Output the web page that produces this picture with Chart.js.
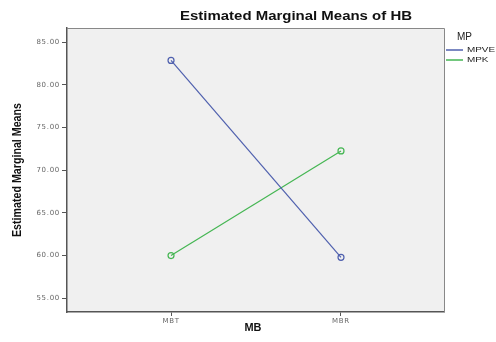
<!DOCTYPE html>
<html><head><meta charset="utf-8">
<script src="https://cdn.jsdelivr.net/npm/chart.js@4/dist/chart.umd.min.js"></script>
<style>html,body{margin:0;padding:0;background:#fff}</style>
</head><body>
<canvas id="c" width="496" height="342" style="display:block;width:496px;height:342px"></canvas>
<script>
const categories = ['MBT', 'MBR'];
const seriesNames = ['MPVE', 'MPK'];
const mpveValues = [82.85, 59.8];
const mpkValues = [60.0, 72.25];
const yTickValues = [55, 60, 65, 70, 75, 80, 85];
const chartTitle = 'Estimated Marginal Means of HB';
const legendTitle = 'MP';
const xTitle = 'MB';
const yTitle = 'Estimated Marginal Means';

const seriesColors = ['#4F60AE', '#45B653'];
const allSeries = [mpveValues, mpkValues];

function fitText(ctx, text, x, y, w, align) {
  const m = ctx.measureText(text).width;
  const s = w / m;
  ctx.save();
  ctx.translate(x, y);
  ctx.scale(s, 1);
  ctx.textAlign = align;
  ctx.fillText(text, 0, 0);
  ctx.restore();
}

const decor = {
  id: 'decor',
  beforeDraw(chart) {
    const ctx = chart.ctx, a = chart.chartArea;
    ctx.save();
    ctx.fillStyle = '#ffffff';
    ctx.fillRect(0, 0, chart.width, chart.height);
    ctx.fillStyle = '#F0F0F0';
    ctx.fillRect(a.left, a.top, a.right - a.left, a.bottom - a.top);
    ctx.restore();
    ctx.letterSpacing = '0.7px';
  },
  beforeDatasetsDraw(chart) {
    const ctx = chart.ctx, a = chart.chartArea;
    ctx.save();
    ctx.strokeStyle = '#888888';
    ctx.lineWidth = 1;
    ctx.beginPath();
    ctx.moveTo(a.left, a.top + 0.5);
    ctx.lineTo(a.right + 0.5, a.top + 0.5);
    ctx.lineTo(a.right + 0.5, a.bottom);
    ctx.stroke();
    ctx.restore();
  },
  afterDraw(chart) {
    const ctx = chart.ctx;
    ctx.save();
    ctx.letterSpacing = '0px';
    ctx.fillStyle = '#111';
    ctx.textBaseline = 'middle';
    ctx.font = 'bold 12px Arial, "Liberation Sans", sans-serif';
    fitText(ctx, chartTitle, 296, 17, 232, 'center');

    ctx.font = 'bold 11px Arial, "Liberation Sans", sans-serif';
    fitText(ctx, xTitle, 253, 328, 17, 'center');

    ctx.save();
    ctx.translate(18, 170);
    ctx.rotate(-Math.PI / 2);
    ctx.font = 'bold 12px Arial, "Liberation Sans", sans-serif';
    fitText(ctx, yTitle, 0, 0, 134, 'center');
    ctx.restore();

    ctx.fillStyle = '#222';
    ctx.font = '10px Arial, "Liberation Sans", sans-serif';
    ctx.textAlign = 'left';
    ctx.fillText(legendTitle, 457, 37);

    ctx.font = '8px Arial, "Liberation Sans", sans-serif';
    const s = 28 / ctx.measureText(chart.data.datasets[0].label).width;
    chart.data.datasets.forEach((ds, i) => {
      const y = 50 + 10 * i;
      ctx.strokeStyle = ds.borderColor;
      ctx.lineWidth = 1.5;
      ctx.beginPath();
      ctx.moveTo(446, y);
      ctx.lineTo(463, y);
      ctx.stroke();
      ctx.save();
      ctx.translate(467, y);
      ctx.scale(s, 1);
      ctx.textAlign = 'left';
      ctx.fillStyle = '#222';
      ctx.fillText(ds.label, 0, 0);
      ctx.restore();
    });
    ctx.restore();
  }
};

const datasets = seriesNames.map((name, i) => ({
  label: name,
  data: allSeries[i].map((v, j) => ({ x: j, y: v })),
  borderColor: seriesColors[i],
  backgroundColor: seriesColors[i],
  borderWidth: 1.2,
  pointRadius: 3,
  pointBorderWidth: 1.2,
  pointBackgroundColor: 'rgba(0,0,0,0)',
  pointBorderColor: seriesColors[i],
  tension: 0
}));

const tickFont = { size: 7, family: '"DejaVu Sans", Arial, sans-serif' };

new Chart(document.getElementById('c'), {
  type: 'line',
  data: { datasets },
  options: {
    responsive: false,
    animation: false,
    events: [],
    layout: { padding: { left: 0, top: 28, right: 52, bottom: 0 } },
    plugins: { legend: { display: false }, title: { display: false }, tooltip: { enabled: false } },
    scales: {
      x: {
        type: 'linear',
        min: -0.612,
        max: 1.606,
        afterFit(scale) { scale.height = 30; },
        afterBuildTicks(scale) { scale.ticks = categories.map((c, i) => ({ value: i })); },
        ticks: {
          callback: (v) => categories[v],
          font: tickFont,
          color: '#666',
          padding: 1,
          maxRotation: 0,
          autoSkip: false
        },
        grid: { drawOnChartArea: false, drawTicks: true, tickLength: 4, tickColor: '#555', tickWidth: 1 },
        border: { display: true, color: '#555', width: 1.5 }
      },
      y: {
        min: 53.4,
        max: 86.64,
        afterFit(scale) { scale.width = 67; },
        afterBuildTicks(scale) { scale.ticks = yTickValues.map(v => ({ value: v })); },
        ticks: {
          callback: (v) => v.toFixed(2),
          font: tickFont,
          color: '#666',
          padding: 2,
          autoSkip: false
        },
        grid: { drawOnChartArea: false, drawTicks: true, tickLength: 5, tickColor: '#555', tickWidth: 1 },
        border: { display: true, color: '#555', width: 1.5 }
      }
    }
  },
  plugins: [decor]
});
</script>
</body></html>
